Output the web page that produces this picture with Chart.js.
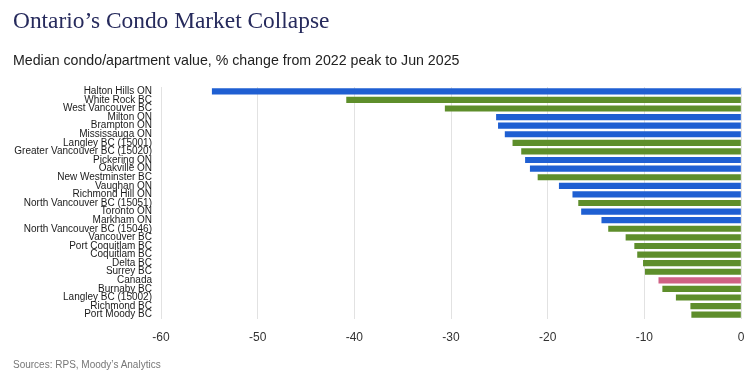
<!DOCTYPE html>
<html>
<head>
<meta charset="utf-8">
<script src="https://cdn.jsdelivr.net/npm/chart.js@4"></script>
<style>
  html, body { margin: 0; padding: 0; background: #fff; }
  #wrap { position: relative; width: 750px; height: 373px; overflow: hidden; }
  #title { position: absolute; left: 13px; top: 7px; font-family: "Liberation Serif", "Times New Roman", serif; font-size: 23.4px; color: #262a5c; white-space: nowrap; }
  #subtitle { position: absolute; left: 13px; top: 52px; font-family: "Liberation Sans", Arial, sans-serif; font-size: 14.2px; color: #222; white-space: nowrap; }
  #sources { position: absolute; left: 13px; top: 359px; font-family: "Liberation Sans", Arial, sans-serif; font-size: 10px; color: #777; white-space: nowrap; }
  #chartBox { position: absolute; left: 0; top: 0; width: 750px; height: 373px; }
</style>
</head>
<body>
<div id="wrap">
  <div id="chartBox"><canvas id="condoChart"></canvas></div>
  <div id="title">Ontario’s Condo Market Collapse</div>
  <div id="subtitle">Median condo/apartment value, % change from 2022 peak to Jun 2025</div>
  <div id="sources">Sources: RPS, Moody’s Analytics</div>
</div>
<script>
// markets, top to bottom
const markets = [
  'Halton Hills ON', 'White Rock BC', 'West Vancouver BC', 'Milton ON', 'Brampton ON',
  'Mississauga ON', 'Langley BC (15001)', 'Greater Vancouver BC (15020)', 'Pickering ON',
  'Oakville ON', 'New Westminster BC', 'Vaughan ON', 'Richmond Hill ON',
  'North Vancouver BC (15051)', 'Toronto ON', 'Markham ON', 'North Vancouver BC (15046)',
  'Vancouver BC', 'Port Coquitlam BC', 'Coquitlam BC', 'Delta BC', 'Surrey BC', 'Canada',
  'Burnaby BC', 'Langley BC (15002)', 'Richmond BC', 'Port Moody BC'
];

// % change from 2022 peak
const changes = [
  -54.7, -40.8, -30.6, -25.3, -25.1,
  -24.4, -23.6, -22.7, -22.3,
  -21.8, -21.0, -18.8, -17.4,
  -16.8, -16.5, -14.4, -13.7,
  -11.9, -11.0, -10.7, -10.1, -9.9, -8.5,
  -8.1, -6.7, -5.2, -5.1
];

// ON / BC / CA
const regions = [
  'ON', 'BC', 'BC', 'ON', 'ON',
  'ON', 'BC', 'BC', 'ON',
  'ON', 'BC', 'ON', 'ON',
  'BC', 'ON', 'ON', 'BC',
  'BC', 'BC', 'BC', 'BC', 'BC', 'CA',
  'BC', 'BC', 'BC', 'BC'
];

const xTicks = [-60, -50, -40, -30, -20, -10, 0];

const regionColors = { ON: '#1f5fd2', BC: '#5e8e2b', CA: '#cf6184' };

const ctx = document.getElementById('condoChart').getContext('2d');
new Chart(ctx, {
  type: 'bar',
  data: {
    labels: markets,
    datasets: [{
      data: changes,
      backgroundColor: regions.map(r => regionColors[r]),
      borderWidth: 0,
      barThickness: 5.5
    }]
  },
  options: {
    indexAxis: 'y',
    responsive: true,
    maintainAspectRatio: false,
    animation: false,
    layout: { padding: { top: 87, bottom: 9, right: 9, left: 0 } },
    plugins: { legend: { display: false }, tooltip: { enabled: false } },
    scales: {
      x: {
        min: -60,
        max: 0,
        afterBuildTicks: s => { s.ticks = xTicks.map(v => ({ value: v })); },
        afterFit: s => { s.height = 45; s.paddingLeft = 0; s.paddingRight = 0; },
        grid: { color: '#e2e2e2', drawTicks: false },
        border: { display: false },
        ticks: {
          padding: 11,
          color: '#333',
          font: { family: 'Liberation Sans, Arial, sans-serif', size: 12 }
        }
      },
      y: {
        afterFit: s => { s.width = 161; },
        grid: { display: false, drawTicks: false },
        border: { display: false },
        ticks: {
          autoSkip: false,
          padding: 9,
          color: '#1a1a1a',
          font: { family: 'Liberation Sans, Arial, sans-serif', size: 10, lineHeight: 1 }
        }
      }
    }
  }
});
</script>
</body>
</html>
